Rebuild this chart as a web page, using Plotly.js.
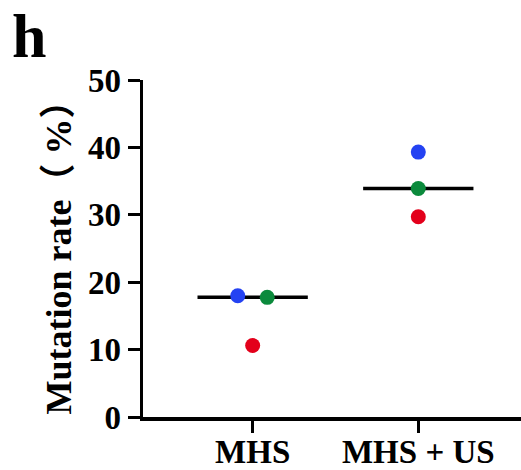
<!DOCTYPE html>
<html>
<head>
<meta charset="utf-8">
<script src="https://cdn.plot.ly/plotly-3.0.1.min.js"></script>
<style>html,body{margin:0;padding:0;background:#fff;}#chart{width:521px;height:470px;}</style>
</head>
<body>
<div id="chart"></div>
<script>
// Data
const categories = ["MHS", "MHS + US"];
const blueValues = [18.0, 39.3];
const greenValues = [17.75, 33.9];
const redValues = [10.6, 29.7];
const blueJitter = [-0.09, 0];
const greenJitter = [0.088, 0];
const redJitter = [0, 0];
const yTicks = [0, 10, 20, 30, 40, 50];

const FONT = "'Liberation Serif', 'Times New Roman', 'Noto Sans CJK SC', serif";
const idx = categories.map((c, i) => i);

function median(arr) {
  const s = arr.slice().sort((a, b) => a - b);
  const m = Math.floor(s.length / 2);
  return s.length % 2 ? s[m] : (s[m - 1] + s[m]) / 2;
}

const traces = [];
// median lines
idx.forEach(i => {
  const med = median([blueValues[i], greenValues[i], redValues[i]]);
  traces.push({
    x: [i - 0.333, i + 0.333], y: [med, med], mode: 'lines', type: 'scatter',
    line: {color: '#000', width: 3.5}, hoverinfo: 'skip', showlegend: false
  });
});
const mk = (vals, jit, color) => ({
  x: idx.map(i => i + jit[i]), y: vals, mode: 'markers', type: 'scatter',
  marker: {color: color, size: 15, line: {width: 0}}, showlegend: false
});
traces.push(mk(redValues, redJitter, '#E3001B'));
traces.push(mk(greenValues, greenJitter, '#0B8A3C'));
traces.push(mk(blueValues, blueJitter, '#2442F2'));

const layout = {
  width: 521, height: 470,
  margin: {l: 143, r: 0, t: 80, b: 53},
  paper_bgcolor: '#fff', plot_bgcolor: '#fff',
  showlegend: false,
  font: {family: FONT, color: '#000'},
  xaxis: {
    range: [-0.662, 1.62], tickvals: idx, ticktext: categories,
    showgrid: false, zeroline: false, showline: true, linecolor: '#000', linewidth: 3.5,
    ticks: 'outside', ticklen: 12, tickwidth: 3, tickcolor: '#000',
    ticklabelstandoff: -9,
    tickfont: {family: FONT, size: 33, color: '#000', weight: 'bold'}
  },
  yaxis: {
    range: [0, 50], tickvals: yTicks, ticktext: yTicks.map(String),
    showgrid: false, zeroline: false, showline: true, linecolor: '#000', linewidth: 3.5,
    ticks: 'outside', ticklen: 12, tickwidth: 3, tickcolor: '#000',
    tickfont: {family: FONT, size: 33, color: '#000', weight: 'bold'},
    title: {text: 'Mutation rate（ %）', font: {family: FONT, size: 36, color: '#000', weight: 'bold'}, standoff: 6}
  },
  annotations: [{
    text: 'h', xref: 'paper', yref: 'paper', x: -133/378, y: 1 + 80/337,
    xanchor: 'left', yanchor: 'top', showarrow: false,
    font: {family: FONT, size: 62, color: '#000', weight: 'bold'}
  }]
};

Plotly.newPlot('chart', traces, layout, {displayModeBar: false, staticPlot: true});
</script>
</body>
</html>
